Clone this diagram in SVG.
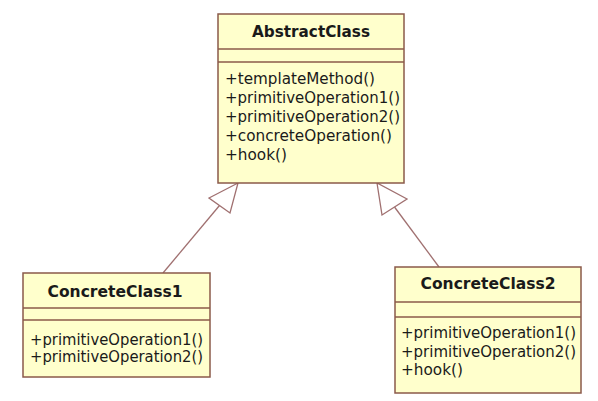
<svg xmlns="http://www.w3.org/2000/svg" width="598" height="401" viewBox="0 0 598 401">
<style>
.box{fill:#FFFFCC;stroke:#8B5A4A;stroke-width:1.5}
.sep{stroke:#8B5A4A;stroke-width:1.5}
.title{font-family:"DejaVu Sans",Verdana,sans-serif;font-weight:bold;font-size:15px;fill:#1a1a1a;text-anchor:middle}
.op{font-family:"DejaVu Sans",Verdana,sans-serif;font-size:15px;fill:#1a1a1a}
.edge{stroke:#A07070;stroke-width:1.3;fill:none}
.head{stroke:#A07070;stroke-width:1.3;fill:#FFFFFF}
</style>
<rect width="598" height="401" fill="#FFFFFF"/>
<g id="connectors">
<line class="edge" x1="219.5" y1="205.5" x2="163" y2="273"/>
<polygon class="head" points="238,183 209,198 230,213"/>
<line class="edge" x1="394.5" y1="207" x2="439" y2="267"/>
<polygon class="head" points="377,183 382,215 407,199"/>
</g>
<g id="AbstractClass">
<rect class="box" x="218" y="14" width="186" height="169"/>
<line class="sep" x1="218" y1="49" x2="404" y2="49"/>
<line class="sep" x1="218" y1="62" x2="404" y2="62"/>
<text class="title" x="311" y="37" textLength="118" lengthAdjust="spacingAndGlyphs">AbstractClass</text>
<text class="op" x="225" y="84" textLength="150" lengthAdjust="spacingAndGlyphs">+templateMethod()</text>
<text class="op" x="225" y="103" textLength="175" lengthAdjust="spacingAndGlyphs">+primitiveOperation1()</text>
<text class="op" x="225" y="122" textLength="175" lengthAdjust="spacingAndGlyphs">+primitiveOperation2()</text>
<text class="op" x="225" y="141" textLength="167" lengthAdjust="spacingAndGlyphs">+concreteOperation()</text>
<text class="op" x="225" y="160" textLength="62" lengthAdjust="spacingAndGlyphs">+hook()</text>
</g>
<g id="ConcreteClass1">
<rect class="box" x="23" y="273" width="187" height="104"/>
<line class="sep" x1="23" y1="308" x2="210" y2="308"/>
<line class="sep" x1="23" y1="320" x2="210" y2="320"/>
<text class="title" x="115" y="297" textLength="135" lengthAdjust="spacingAndGlyphs">ConcreteClass1</text>
<text class="op" x="30" y="345" textLength="173" lengthAdjust="spacingAndGlyphs">+primitiveOperation1()</text>
<text class="op" x="30" y="362" textLength="173" lengthAdjust="spacingAndGlyphs">+primitiveOperation2()</text>
</g>
<g id="ConcreteClass2">
<rect class="box" x="395" y="267" width="186" height="126"/>
<line class="sep" x1="395" y1="302" x2="581" y2="302"/>
<line class="sep" x1="395" y1="317" x2="581" y2="317"/>
<text class="title" x="488" y="289" textLength="135" lengthAdjust="spacingAndGlyphs">ConcreteClass2</text>
<text class="op" x="401" y="338" textLength="175" lengthAdjust="spacingAndGlyphs">+primitiveOperation1()</text>
<text class="op" x="401" y="356.5" textLength="175" lengthAdjust="spacingAndGlyphs">+primitiveOperation2()</text>
<text class="op" x="401" y="375" textLength="62" lengthAdjust="spacingAndGlyphs">+hook()</text>
</g>
</svg>
